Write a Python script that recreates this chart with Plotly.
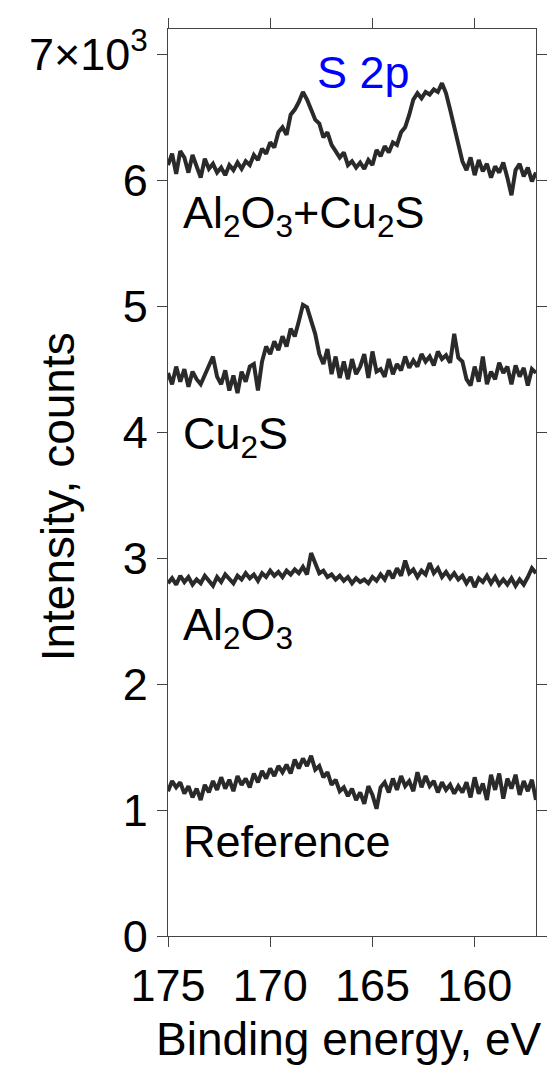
import plotly.graph_objects as go

energy = [175.0, 174.8, 174.6, 174.4, 174.2, 174.0, 173.8, 173.6, 173.4, 173.2,
          173.0, 172.8, 172.6, 172.4, 172.2, 172.0, 171.8, 171.6, 171.4, 171.2,
          171.0, 170.8, 170.6, 170.4, 170.2, 170.0, 169.8, 169.6, 169.4, 169.2,
          169.0, 168.8, 168.6, 168.4, 168.2, 168.0, 167.8, 167.6, 167.4, 167.2,
          167.0, 166.8, 166.6, 166.4, 166.2, 166.0, 165.8, 165.6, 165.4, 165.2,
          165.0, 164.8, 164.6, 164.4, 164.2, 164.0, 163.8, 163.6, 163.4, 163.2,
          163.0, 162.8, 162.6, 162.4, 162.2, 162.0, 161.8, 161.6, 161.4, 161.2,
          161.0, 160.8, 160.6, 160.4, 160.2, 160.0, 159.8, 159.6, 159.4, 159.2,
          159.0, 158.8, 158.6, 158.4, 158.2, 158.0, 157.8, 157.6, 157.4, 157.2,
          157.0]

al2o3_cu2s = [6120, 6210, 6050, 6230, 6180, 6060, 6200, 6110, 6020, 6170,
              6090, 6130, 6060, 6100, 6040, 6120, 6080, 6140, 6090, 6150,
              6120, 6200, 6160, 6250, 6210, 6300, 6260, 6380, 6420, 6360,
              6520, 6560, 6620, 6700, 6640, 6560, 6480, 6450, 6340, 6380,
              6280, 6230, 6180, 6220, 6120, 6150, 6100, 6140, 6090, 6160,
              6120, 6240, 6190, 6270, 6220, 6300, 6280, 6380, 6420, 6520,
              6640, 6690, 6650, 6700, 6680, 6720, 6700, 6770, 6690, 6560,
              6420, 6280, 6150, 6080, 6180, 6040, 6160, 6070, 6130, 6020,
              6110, 6060, 6140, 6020, 5880, 6080, 6130, 6030, 6100, 5990,
              6060]

cu2s = [4470, 4380, 4520, 4400, 4500, 4360, 4480, 4420, 4380, 4460,
        4530, 4600, 4440, 4380, 4490, 4330, 4450, 4310, 4480, 4400,
        4520, 4540, 4330, 4560, 4680, 4620, 4720, 4650, 4760, 4680,
        4820, 4760, 4880, 5010, 4990, 4870, 4780, 4620, 4540, 4660,
        4460, 4600, 4430, 4560, 4420, 4580, 4460, 4520, 4620, 4430,
        4640, 4480, 4500, 4440, 4580, 4460, 4540, 4490, 4600, 4510,
        4570, 4520, 4620, 4560, 4600, 4530, 4640, 4580, 4610, 4550,
        4780, 4590, 4560, 4420, 4370, 4520, 4400, 4600, 4380, 4480,
        4420, 4550, 4470, 4520, 4380, 4530, 4440, 4510, 4370, 4500,
        4470]

al2o3 = [2800, 2840, 2790, 2860, 2810, 2850, 2790, 2830, 2800, 2860,
         2820, 2780, 2850, 2810, 2870, 2830, 2800, 2860, 2830, 2880,
         2840, 2870, 2820, 2880, 2850, 2900, 2860, 2890, 2850, 2900,
         2870, 2910, 2880, 2930, 2870, 3040, 2950, 2880, 2900, 2850,
         2870, 2830, 2860, 2820, 2850, 2800, 2840, 2810, 2830, 2800,
         2850, 2820, 2870, 2830, 2900, 2840, 2920, 2860, 2980, 2880,
         2910, 2850, 2900, 2870, 2960, 2880, 2920, 2850, 2890, 2840,
         2880, 2830, 2860, 2800, 2850, 2770, 2840, 2810, 2860, 2800,
         2850, 2790, 2830, 2790, 2840, 2780, 2830, 2790, 2850, 2920,
         2880]

reference = [1150, 1230, 1180, 1220, 1130, 1190, 1100, 1170, 1080, 1200,
             1140, 1230, 1160, 1260, 1170, 1240, 1150, 1270, 1200, 1250,
             1180, 1290, 1220, 1310, 1250, 1330, 1270, 1350, 1300, 1360,
             1290, 1400, 1330, 1410, 1350, 1430, 1320, 1350, 1260, 1300,
             1200, 1240, 1150, 1180, 1110, 1170, 1080, 1140, 1050, 1190,
             1120, 1010, 1180, 1220, 1140, 1250, 1160, 1270, 1190, 1230,
             1150, 1300, 1180, 1270, 1190, 1230, 1140, 1220, 1160, 1200,
             1130, 1190, 1140, 1220, 1100, 1260, 1130, 1210, 1080, 1280,
             1160, 1290, 1090, 1250, 1170, 1280, 1120, 1230, 1150, 1240,
             1080]

series = [al2o3_cu2s, cu2s, al2o3, reference]
labels = ["Al<sub>2</sub>O<sub>3</sub>+Cu<sub>2</sub>S", "Cu<sub>2</sub>S",
          "Al<sub>2</sub>O<sub>3</sub>", "Reference"]

x_ticks = [175, 170, 165, 160]
y_ticks = [0, 1000, 2000, 3000, 4000, 5000, 6000, 7000]
y_ticktext = ["0", "1", "2", "3", "4", "5", "6", "7×10<sup>3</sup>"]

FONT = "Liberation Sans, Arial, Helvetica, sans-serif"
FS = 45
# The page body has an 8px default margin; size the figure so it fits.
OFF = 8
W, H = 560 - OFF, 1069 - OFF
L, R, T, B = 168 - OFF, 24, 18 - OFF, 133
PW, PH = W - L - R, H - T - B


def px(xp):
    return (xp - OFF - L) / PW


def py(yp):
    return (H - B - (yp - OFF)) / PH


fig = go.Figure()
for ys in series:
    fig.add_trace(go.Scatter(x=energy, y=ys, mode="lines",
                             line=dict(color="#2a2a2a", width=4),
                             showlegend=False, hoverinfo="skip"))

label_pos = [(183, 207), (183, 430), (183, 624), (183, 840)]
for text, (xp, yp) in zip(labels, label_pos):
    fig.add_annotation(text=text, xref="paper", yref="paper", x=px(xp - 2), y=py(yp),
                       xanchor="left", yanchor="middle", showarrow=False,
                       font=dict(family=FONT, size=FS, color="black"))

fig.add_annotation(text="S 2p", xref="paper", yref="paper", x=px(363), y=py(62),
                   xanchor="center", yanchor="middle", showarrow=False,
                   font=dict(family=FONT, size=FS, color="#0000ff"))

fig.add_annotation(text="Binding energy, eV", xref="paper", yref="paper",
                   x=px(349), y=py(1040), xanchor="center", yanchor="middle",
                   showarrow=False, font=dict(family=FONT, size=FS + 1, color="black"))
fig.add_annotation(text="Intensity, counts", xref="paper", yref="paper",
                   x=px(58), y=py(492), xanchor="center", yanchor="middle",
                   textangle=-90, showarrow=False,
                   font=dict(family=FONT, size=FS + 1, color="black"))

axis_common = dict(showgrid=False, zeroline=False, showline=True, linecolor="#444",
                   linewidth=1.2, mirror="ticks", ticks="outside", ticklen=10,
                   tickwidth=1.2, tickcolor="#444",
                   tickfont=dict(family=FONT, size=FS, color="black"))

fig.update_layout(
    width=W, height=H,
    margin=dict(l=L, r=R, t=T, b=B),
    paper_bgcolor="white", plot_bgcolor="white",
    xaxis=dict(range=[175, 157], tickvals=x_ticks, **axis_common),
    yaxis=dict(range=[0, 7200], tickvals=y_ticks, ticktext=y_ticktext, **axis_common),
)

fig.write_html("out.html")
